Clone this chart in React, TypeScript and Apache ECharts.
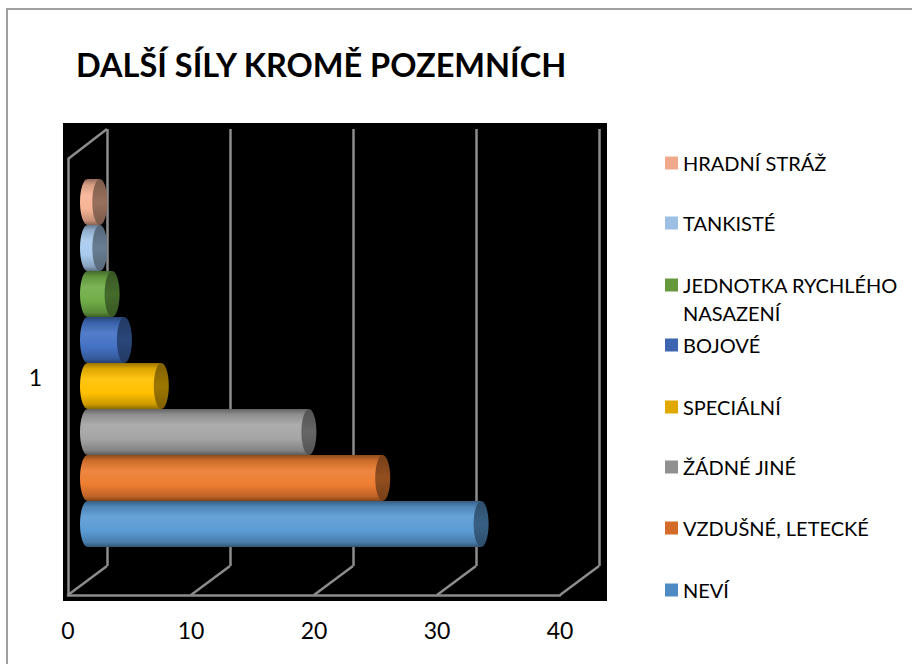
import React, { useEffect, useRef } from 'react';
import * as echarts from 'echarts';

// ---------- data ----------
const categories = ['1'];
const seriesNames = [
  'NEVÍ',
  'VZDUŠNÉ, LETECKÉ',
  'ŽÁDNÉ JINÉ',
  'SPECIÁLNÍ',
  'BOJOVÉ',
  'JEDNOTKA RYCHLÉHO NASAZENÍ',
  'TANKISTÉ',
  'HRADNÍ STRÁŽ',
];
const seriesValues = [32, 24, 18, 6, 3, 2, 1, 1];
const xTicks = [0, 10, 20, 30, 40];
const chartTitle = 'DALŠÍ SÍLY KROMĚ POZEMNÍCH';

// ---------- style ----------
const legendColors = ['#4e8ac4', '#d56b28', '#909090', '#e0a800', '#3d65b0', '#66993e', '#9dbfe3', '#f0a98a'];
const barColors = ['#5b9bd5', '#ed7d31', '#a5a5a5', '#ffc000', '#4472c4', '#70ad47', '#a9cbee', '#f7b496'];
const legendCenters = [590, 528, 467, 407, 345, 285, 223, 163];

const FONT = 'Lato, "Open Sans", sans-serif';
const WALL = '#8c8c8c';
const WALL_W = 2.5;

// layout
const FRONT = { left: 68, top: 159, width: 492, height: 436 };
const BACK = { left: 107, top: 129, width: 492, height: 437 };
const MID = { left: 87.5, top: 179, width: 492, height: 368 };
const BG = { left: 63, top: 123, width: 544, height: 478 };

function hexToRgb(h: string) {
  const n = parseInt(h.slice(1), 16);
  return [(n >> 16) & 255, (n >> 8) & 255, n & 255];
}
function mix(h: string, target: string, t: number) {
  const a = hexToRgb(h);
  const b = hexToRgb(target);
  const c = a.map((v, i) => Math.round(v + (b[i] - v) * t));
  return `rgb(${c[0]},${c[1]},${c[2]})`;
}

export default function App() {
  const ref = useRef<HTMLDivElement>(null);

  useEffect(() => {
    if (!ref.current) return;
    const chart = echarts.init(ref.current, undefined, { renderer: 'svg' });
    const n = seriesNames.length;

    const series = seriesNames.map((name, i) => ({
      type: 'custom',
      name,
      xAxisIndex: 3,
      yAxisIndex: 3,
      itemStyle: { color: legendColors[i] },
      encode: { x: 0, y: 1 },
      data: [[seriesValues[i], 0]],
      z: 5,
      renderItem: (params: any, api: any) => {
        const v = api.value(0);
        const c = api.value(1);
        const start = api.coord([0, c]);
        const end = api.coord([v, c]);
        const band = api.size([0, 1])[1];
        const h = band / n;
        const yc = start[1] + (n / 2 - 0.5 - i) * h;
        const ry = h / 2;
        const rx = 7.5;
        const base = barColors[i];
        const body = new echarts.graphic.LinearGradient(0, 0, 0, 1, [
          { offset: 0, color: mix(base, '#000000', 0.4) },
          { offset: 0.12, color: mix(base, '#000000', 0.14) },
          { offset: 0.35, color: mix(base, '#ffffff', 0.08) },
          { offset: 0.65, color: base },
          { offset: 0.9, color: mix(base, '#000000', 0.2) },
          { offset: 1, color: mix(base, '#000000', 0.45) },
        ]);
        const cap = new echarts.graphic.LinearGradient(0, 0, 0, 1, [
          { offset: 0, color: mix(base, '#000000', 0.5) },
          { offset: 0.5, color: mix(base, '#000000', 0.38) },
          { offset: 1, color: mix(base, '#000000', 0.5) },
        ]);
        return {
          type: 'group',
          children: [
            { type: 'ellipse', shape: { cx: start[0], cy: yc, rx, ry }, style: { fill: body } },
            { type: 'rect', shape: { x: start[0], y: yc - ry, width: end[0] - start[0], height: h }, style: { fill: body } },
            { type: 'ellipse', shape: { cx: end[0], cy: yc, rx, ry }, style: { fill: cap } },
          ],
        };
      },
    }));

    const legends = seriesNames.map((name, i) => ({
      data: [name],
      left: 665,
      top: legendCenters[i] - 10,
      orient: 'vertical',
      padding: 0,
      itemGap: 0,
      itemWidth: 13,
      itemHeight: 13,
      icon: 'rect',
      selectedMode: false,
      formatter: name === 'JEDNOTKA RYCHLÉHO NASAZENÍ' ? () => 'JEDNOTKA RYCHLÉHO' : undefined,
      textStyle: { fontFamily: FONT, fontSize: 20, color: '#000', lineHeight: 20 },
    }));

    const option: any = {
      animation: false,
      backgroundColor: '#ffffff',
      title: {
        text: chartTitle,
        left: 76,
        top: 44,
        padding: 0,
        textStyle: { fontFamily: FONT, fontWeight: 'bold', fontSize: 32.5, color: '#000', lineHeight: 40 },
      },
      legend: legends,
      grid: [
        { ...BG, show: true, backgroundColor: '#000000', borderWidth: 0, containLabel: false },
        { ...FRONT, containLabel: false },
        { ...BACK, containLabel: false },
        { ...MID, containLabel: false },
      ],
      xAxis: [
        { gridIndex: 0, type: 'value', min: 0, max: 40, show: false },
        {
          gridIndex: 1,
          type: 'value',
          min: 0,
          max: 40,
          interval: 10,
          axisLine: { show: true, lineStyle: { color: WALL, width: WALL_W } },
          axisTick: { show: false },
          splitLine: { show: false },
          axisLabel: { fontFamily: FONT, fontSize: 23, color: '#000', margin: 22, lineHeight: 26 },
        },
        {
          gridIndex: 2,
          type: 'value',
          min: 0,
          max: 40,
          interval: 10,
          axisLine: { show: false },
          axisTick: { show: false },
          axisLabel: { show: false },
          splitLine: { show: true, lineStyle: { color: WALL, width: WALL_W } },
        },
        { gridIndex: 3, type: 'value', min: 0, max: 40, show: false },
      ],
      yAxis: [
        { gridIndex: 0, type: 'category', data: categories, show: false },
        {
          gridIndex: 1,
          type: 'category',
          data: categories,
          axisLine: { show: true, lineStyle: { color: WALL, width: WALL_W } },
          axisTick: { show: false },
          axisLabel: { fontFamily: FONT, fontSize: 23, color: '#000', margin: 26 },
        },
        { gridIndex: 2, type: 'category', data: categories, show: false },
        { gridIndex: 3, type: 'category', data: categories, show: false },
      ],
      series,
    };

    chart.setOption(option);

    // 3D wall edges derived from the axes' scales
    const graphics: any[] = [];
    xTicks.forEach((t) => {
      const fx = chart.convertToPixel({ xAxisIndex: 1 }, t) as number;
      const bx = chart.convertToPixel({ xAxisIndex: 2 }, t) as number;
      graphics.push({
        type: 'line',
        z: 3,
        shape: { x1: fx, y1: FRONT.top + FRONT.height, x2: bx, y2: BACK.top + BACK.height },
        style: { stroke: WALL, lineWidth: WALL_W },
      });
    });
    const fx0 = chart.convertToPixel({ xAxisIndex: 1 }, 0) as number;
    const bx0 = chart.convertToPixel({ xAxisIndex: 2 }, 0) as number;
    graphics.push({
      type: 'line',
      z: 3,
      shape: { x1: fx0, y1: FRONT.top, x2: bx0, y2: BACK.top },
      style: { stroke: WALL, lineWidth: WALL_W },
    });
    graphics.push({
      type: 'text',
      left: 683,
      top: 303,
      style: { text: 'NASAZENÍ', font: `20px ${FONT}`, fill: '#000' },
    });
    graphics.push({
      type: 'rect',
      z: 10,
      shape: { x: 7, y: 9, width: 1000, height: 1000 },
      style: { fill: 'none', stroke: '#a0a0a0', lineWidth: 2 },
    });
    chart.setOption({ graphic: graphics });

    return () => chart.dispose();
  }, []);

  return (
    <div
      ref={ref}
      style={{ position: 'absolute', left: 0, top: 0, width: 912, height: 664 }}
    />
  );
}
